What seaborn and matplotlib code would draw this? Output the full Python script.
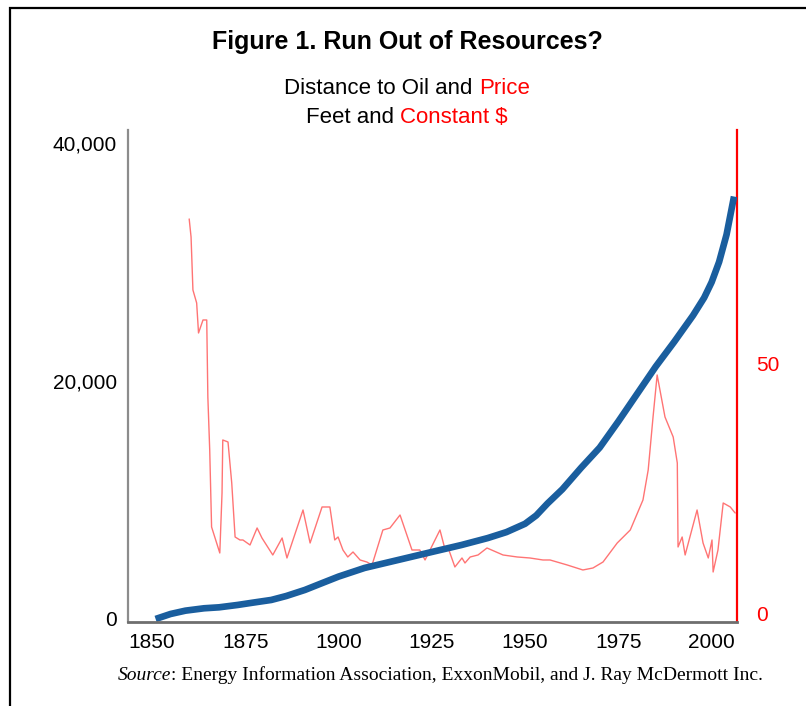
import numpy as np
import pandas as pd
import matplotlib
matplotlib.use('Agg')
import matplotlib.pyplot as plt
import seaborn as sns
from matplotlib.patches import Rectangle
from matplotlib.ticker import FuncFormatter

# distance to oil (feet, left axis)
depth_year = [1851, 1855, 1859, 1864, 1868, 1873, 1877, 1882, 1886, 1891, 1895, 1900,
              1907, 1916, 1925, 1933, 1940, 1945, 1950, 1953, 1956, 1960, 1965, 1970,
              1975, 1980, 1985, 1990, 1995, 1998, 2000, 2002, 2004, 2006]
depth_feet = [0, 420, 700, 900, 980, 1180, 1370, 1600, 1930, 2440, 2940, 3560,
              4290, 4960, 5630, 6220, 6800, 7300, 8000, 8700, 9700, 10900, 12700, 14400,
              16600, 18900, 21200, 23300, 25500, 27000, 28300, 30000, 32300, 35500]

# oil price (constant $, right axis)
price_year = [1860.0, 1860.5, 1861.0, 1862.0, 1862.5, 1863.7, 1864.7, 1865.0, 1865.5, 1866.0,
              1868.2, 1868.8, 1869.0, 1870.4, 1871.4, 1872.3, 1873.6, 1874.4, 1876.3, 1878.2,
              1879.5, 1882.4, 1884.9, 1886.2, 1890.5, 1892.4, 1895.6, 1897.7, 1899.0, 1899.9,
              1901.2, 1902.5, 1903.9, 1905.8, 1907.6, 1909.0, 1911.9, 1913.8, 1916.5, 1919.7,
              1921.8, 1923.2, 1927.2, 1928.6, 1929.4, 1931.2, 1933.1, 1933.9, 1935.3, 1937.4,
              1939.8, 1944.1, 1947.9, 1951.3, 1954.8, 1956.7, 1961.3, 1965.5, 1968.2, 1970.9,
              1974.7, 1978.2, 1981.6, 1983.0, 1984.3, 1985.4, 1987.5, 1989.7, 1990.8, 1991.0,
              1992.1, 1992.9, 1996.1, 1997.7, 1999.1, 2000.1, 2000.4, 2001.7, 2003.1, 2005.0,
              2006.3]
price_usd = [79.0, 75.4, 64.8, 62.2, 56.2, 58.8, 58.8, 43.4, 32.8, 17.4,
             12.2, 24.2, 34.8, 34.4, 26.2, 15.4, 14.8, 14.8, 13.8, 17.2,
             15.2, 11.8, 15.2, 11.2, 20.8, 14.2, 21.4, 21.4, 14.8, 15.4,
             12.8, 11.4, 12.4, 10.8, 10.4, 9.8, 16.8, 17.2, 19.8, 12.8,
             12.8, 10.8, 16.8, 12.8, 13.2, 9.4, 11.2, 10.2, 11.4, 11.8,
             13.2, 11.8, 11.4, 11.2, 10.8, 10.8, 9.8, 8.8, 9.2, 10.4,
             14.2, 16.8, 22.8, 28.8, 39.4, 47.8, 39.4, 35.4, 30.2, 13.4,
             15.4, 11.8, 20.8, 14.2, 11.2, 14.8, 8.4, 12.8, 22.2, 21.4,
             20.2]

x_ticks = [1850, 1875, 1900, 1925, 1950, 1975, 2000]
left_ticks = [0, 20000, 40000]
right_ticks = [0, 50]

sns.set_style('white')
plt.rcParams['font.family'] = ['Liberation Sans', 'DejaVu Sans']
plt.rcParams['text.color'] = 'black'
plt.rcParams['xtick.color'] = 'black'
plt.rcParams['ytick.color'] = 'black'

fig = plt.figure(figsize=(8.06, 7.06), dpi=100)
ax = fig.add_axes([0.1588, 0.119, 0.7556, 0.6969])
ax2 = ax.twinx()

sns.lineplot(x=price_year, y=price_usd, ax=ax2, color='#ff4646', lw=1.0, alpha=0.75)
sns.lineplot(x=depth_year, y=depth_feet, ax=ax, color='#1a5e9e', lw=4.8,
             solid_capstyle='butt', solid_joinstyle='round')

# blue line drawn above the red one
ax.set_zorder(ax2.get_zorder() + 1)
ax.patch.set_visible(False)

ax.set_xlim(1843.6, 2006.8)
ax.set_ylim(-252, 41092)
ax2.set_ylim(-1.6, 96.8)

ax.set_xticks(x_ticks)
ax.set_yticks(left_ticks)
ax.yaxis.set_major_formatter(FuncFormatter(lambda v, p: f'{int(v):,}'))
ax2.set_yticks(right_ticks)

ax.tick_params(axis='x', length=0, pad=8, labelsize=15, labelcolor='black')
ax.tick_params(axis='y', length=0, pad=8, labelsize=15, labelcolor='black')
ax2.tick_params(axis='y', length=0, pad=14, labelsize=15, labelcolor='red')
ax.set_xlabel('')
ax.set_ylabel('')
ax2.set_ylabel('')

for s in ['top', 'right']:
    ax.spines[s].set_visible(False)
ax.spines['left'].set_color('#8c8c8c')
ax.spines['left'].set_linewidth(1.6)
ax.spines['bottom'].set_color('#6e6e6e')
ax.spines['bottom'].set_linewidth(2.0)
for s in ['top', 'left', 'bottom']:
    ax2.spines[s].set_visible(False)
ax2.spines['right'].set_color('red')
ax2.spines['right'].set_linewidth(1.6)

# outer frame (cut at right and bottom like the reference)
fig.patches.append(Rectangle((10 / 806, -0.1), 1.2, 1 - 8 / 706 + 0.1,
                             transform=fig.transFigure, fill=False,
                             ec='black', lw=1.6))

fig.canvas.draw()
renderer = fig.canvas.get_renderer()
cx = 407 / 806


def two_tone(y, black, red, size, weight='normal'):
    probe = fig.text(0, 0, black + ' ' + red, fontsize=size, fontweight=weight)
    w = probe.get_window_extent(renderer).width / fig.bbox.width
    probe.remove()
    fig.text(cx - w / 2, y, black, ha='left', va='baseline', fontsize=size,
             fontweight=weight, color='black')
    fig.text(cx + w / 2, y, red, ha='right', va='baseline', fontsize=size,
             fontweight=weight, color='red')


fig.text(cx, 0.930, 'Figure 1. Run Out of Resources?', ha='center', va='baseline',
         fontsize=18, fontweight='bold', color='black')
two_tone(0.867, 'Distance to Oil and', 'Price', 16)
two_tone(0.826, 'Feet and', 'Constant $', 16)

serif = ['Liberation Serif', 'DejaVu Serif']
src1 = fig.text(118 / 806, 0.037, 'Source', family=serif, style='italic',
                fontsize=14, ha='left', va='baseline')
w1 = src1.get_window_extent(renderer).width / fig.bbox.width
fig.text(118 / 806 + w1, 0.037,
         ': Energy Information Association, ExxonMobil, and J. Ray McDermott Inc.',
         family=serif, fontsize=14, ha='left', va='baseline')

fig.savefig('out.png', dpi=100)
